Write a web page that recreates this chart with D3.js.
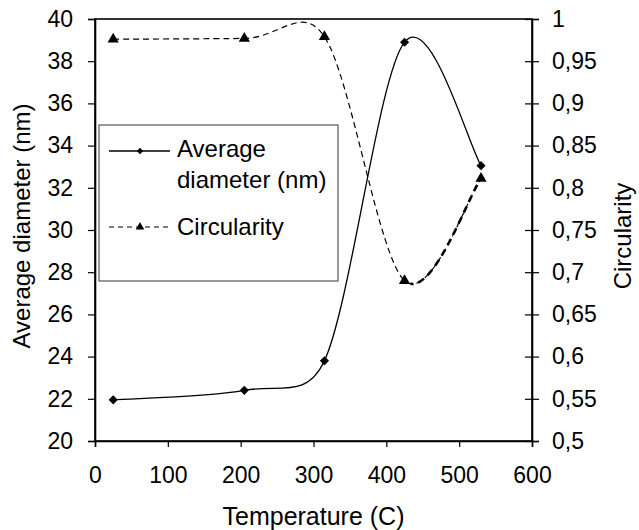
<!DOCTYPE html>
<html>
<head>
<meta charset="utf-8">
<script src="https://cdn.jsdelivr.net/npm/d3@7"></script>
<style>
  body { margin: 0; background: #fff; }
  text { font-family: "Liberation Sans", Arial, sans-serif; fill: #000; }
</style>
</head>
<body>
<svg width="639" height="530"></svg>
<script>
// temperatures (C)
var temps = [25, 205, 315, 425, 530];
// average diameter (nm)
var diameter = [21.95, 22.4, 23.8, 38.9, 33.05];
// circularity
var circularity = [0.976, 0.977, 0.979, 0.69, 0.811];

var xTicks = [0, 100, 200, 300, 400, 500, 600];
var leftTicks = [20, 22, 24, 26, 28, 30, 32, 34, 36, 38, 40];
var rightTicks = [0.5, 0.55, 0.6, 0.65, 0.7, 0.75, 0.8, 0.85, 0.9, 0.95, 1];

var svg = d3.select('svg');
var plotL = 95, plotR = 532, plotT = 19, plotB = 441;

var x = d3.scaleLinear().domain([0, 600]).range([plotL, plotR]);
var yL = d3.scaleLinear().domain([20, 40]).range([plotB, plotT]);
var yR = d3.scaleLinear().domain([0.5, 1]).range([plotB, plotT]);

// plot frame
svg.append('rect')
  .attr('x', plotL).attr('y', plotT)
  .attr('width', plotR - plotL).attr('height', plotB - plotT)
  .attr('fill', 'none').attr('stroke', '#000').attr('stroke-width', 1.6);

// axes
var fmtComma = function(d) { return String(d).replace('.', ','); };

var gx = svg.append('g').attr('transform', 'translate(0,' + plotB + ')')
  .call(d3.axisBottom(x).tickValues(xTicks).tickSize(6).tickPadding(20));
var gl = svg.append('g').attr('transform', 'translate(' + plotL + ',0)')
  .call(d3.axisLeft(yL).tickValues(leftTicks).tickSize(7).tickPadding(15));
var gr = svg.append('g').attr('transform', 'translate(' + plotR + ',0)')
  .call(d3.axisRight(yR).tickValues(rightTicks).tickFormat(fmtComma).tickSize(7).tickPadding(13));
gr.selectAll('.tick line').attr('x1', -7);

[gx, gl, gr].forEach(function(g) {
  g.select('.domain').attr('stroke', '#000').attr('stroke-width', 1.6);
  g.selectAll('.tick line').attr('stroke', '#000').attr('stroke-width', 1.2);
  g.selectAll('.tick text').style('font-size', '23px');
});

// axis titles
svg.append('text').attr('x', (plotL + plotR) / 2).attr('y', 525)
  .attr('text-anchor', 'middle').style('font-size', '25px').text('Temperature (C)');
svg.append('text').attr('transform', 'translate(30,226) rotate(-90)')
  .attr('text-anchor', 'middle').style('font-size', '24px').text('Average diameter (nm)');
svg.append('text').attr('transform', 'translate(631,236) rotate(-90)')
  .attr('text-anchor', 'middle').style('font-size', '24px').text('Circularity');

// Excel-like smoothed line: cubic bezier, tangent offset limited to half the segment
function smoothPath(pts) {
  var p = d3.path();
  var dist = function(a, b) { return Math.hypot(b[0] - a[0], b[1] - a[1]); };
  p.moveTo(pts[0][0], pts[0][1]);
  for (var i = 0; i < pts.length - 1; i++) {
    var p0 = pts[i - 1] || pts[i], p1 = pts[i], p2 = pts[i + 1], p3 = pts[i + 2] || pts[i + 1];
    var d12 = dist(p1, p2), d02 = dist(p0, p2), d13 = dist(p1, p3);
    var f1 = d02 > 0 ? Math.min(1 / 6, d12 / 2 / d02) : 0;
    var f2 = d13 > 0 ? Math.min(1 / 6, d12 / 2 / d13) : 0;
    p.bezierCurveTo(
      p1[0] + f1 * (p2[0] - p0[0]), p1[1] + f1 * (p2[1] - p0[1]),
      p2[0] - f2 * (p3[0] - p1[0]), p2[1] - f2 * (p3[1] - p1[1]),
      p2[0], p2[1]);
  }
  return p.toString();
}

var dPts = diameter.map(function(d, i) { return [x(temps[i]), yL(d)]; });
var cPts = circularity.map(function(d, i) { return [x(temps[i]), yR(d)]; });

svg.append('path').attr('d', smoothPath(dPts))
  .attr('fill', 'none').attr('stroke', '#000').attr('stroke-width', 1.3);

svg.append('defs').append('clipPath').attr('id', 'lastSeg')
  .append('rect').attr('x', x(temps[3]) + 6).attr('y', 0)
  .attr('width', 200).attr('height', 530);

svg.append('path').attr('d', smoothPath(cPts))
  .attr('fill', 'none').attr('stroke', '#000').attr('stroke-width', 1.2)
  .attr('stroke-dasharray', '6,4');
svg.append('path').attr('d', smoothPath(cPts))
  .attr('clip-path', 'url(#lastSeg)')
  .attr('fill', 'none').attr('stroke', '#000').attr('stroke-width', 2.6)
  .attr('stroke-dasharray', '7,5');

var diamond = d3.symbol().type(d3.symbolSquare).size(42);
var triangle = d3.symbol().type(d3.symbolTriangle).size(55);

svg.selectAll('.dmark').data(dPts).enter().append('path')
  .attr('class', 'dmark').attr('d', diamond)
  .attr('transform', function(d) { return 'translate(' + d[0] + ',' + d[1] + ') rotate(45)'; });
svg.selectAll('.cmark').data(cPts).enter().append('path')
  .attr('class', 'cmark').attr('d', triangle)
  .attr('transform', function(d) { return 'translate(' + d[0] + ',' + d[1] + ')'; });

// legend
var lg = svg.append('g');
lg.append('rect').attr('x', 99).attr('y', 125).attr('width', 239).attr('height', 156)
  .attr('fill', '#fff').attr('stroke', '#555').attr('stroke-width', 1.2);
lg.append('line').attr('x1', 109).attr('x2', 170).attr('y1', 151).attr('y2', 151)
  .attr('stroke', '#000').attr('stroke-width', 1.3);
lg.append('path').attr('d', d3.symbol().type(d3.symbolSquare).size(20))
  .attr('transform', 'translate(140,151) rotate(45)');
lg.append('line').attr('x1', 109).attr('x2', 170).attr('y1', 227).attr('y2', 227)
  .attr('stroke', '#000').attr('stroke-width', 1.2).attr('stroke-dasharray', '5,4');
lg.append('path').attr('d', d3.symbol().type(d3.symbolTriangle).size(32))
  .attr('transform', 'translate(140,227)');
lg.append('text').attr('x', 177).attr('y', 157).style('font-size', '24px').text('Average');
lg.append('text').attr('x', 177).attr('y', 188).style('font-size', '24px').text('diameter (nm)');
lg.append('text').attr('x', 177).attr('y', 235).style('font-size', '24px').text('Circularity');
</script>
</body>
</html>
